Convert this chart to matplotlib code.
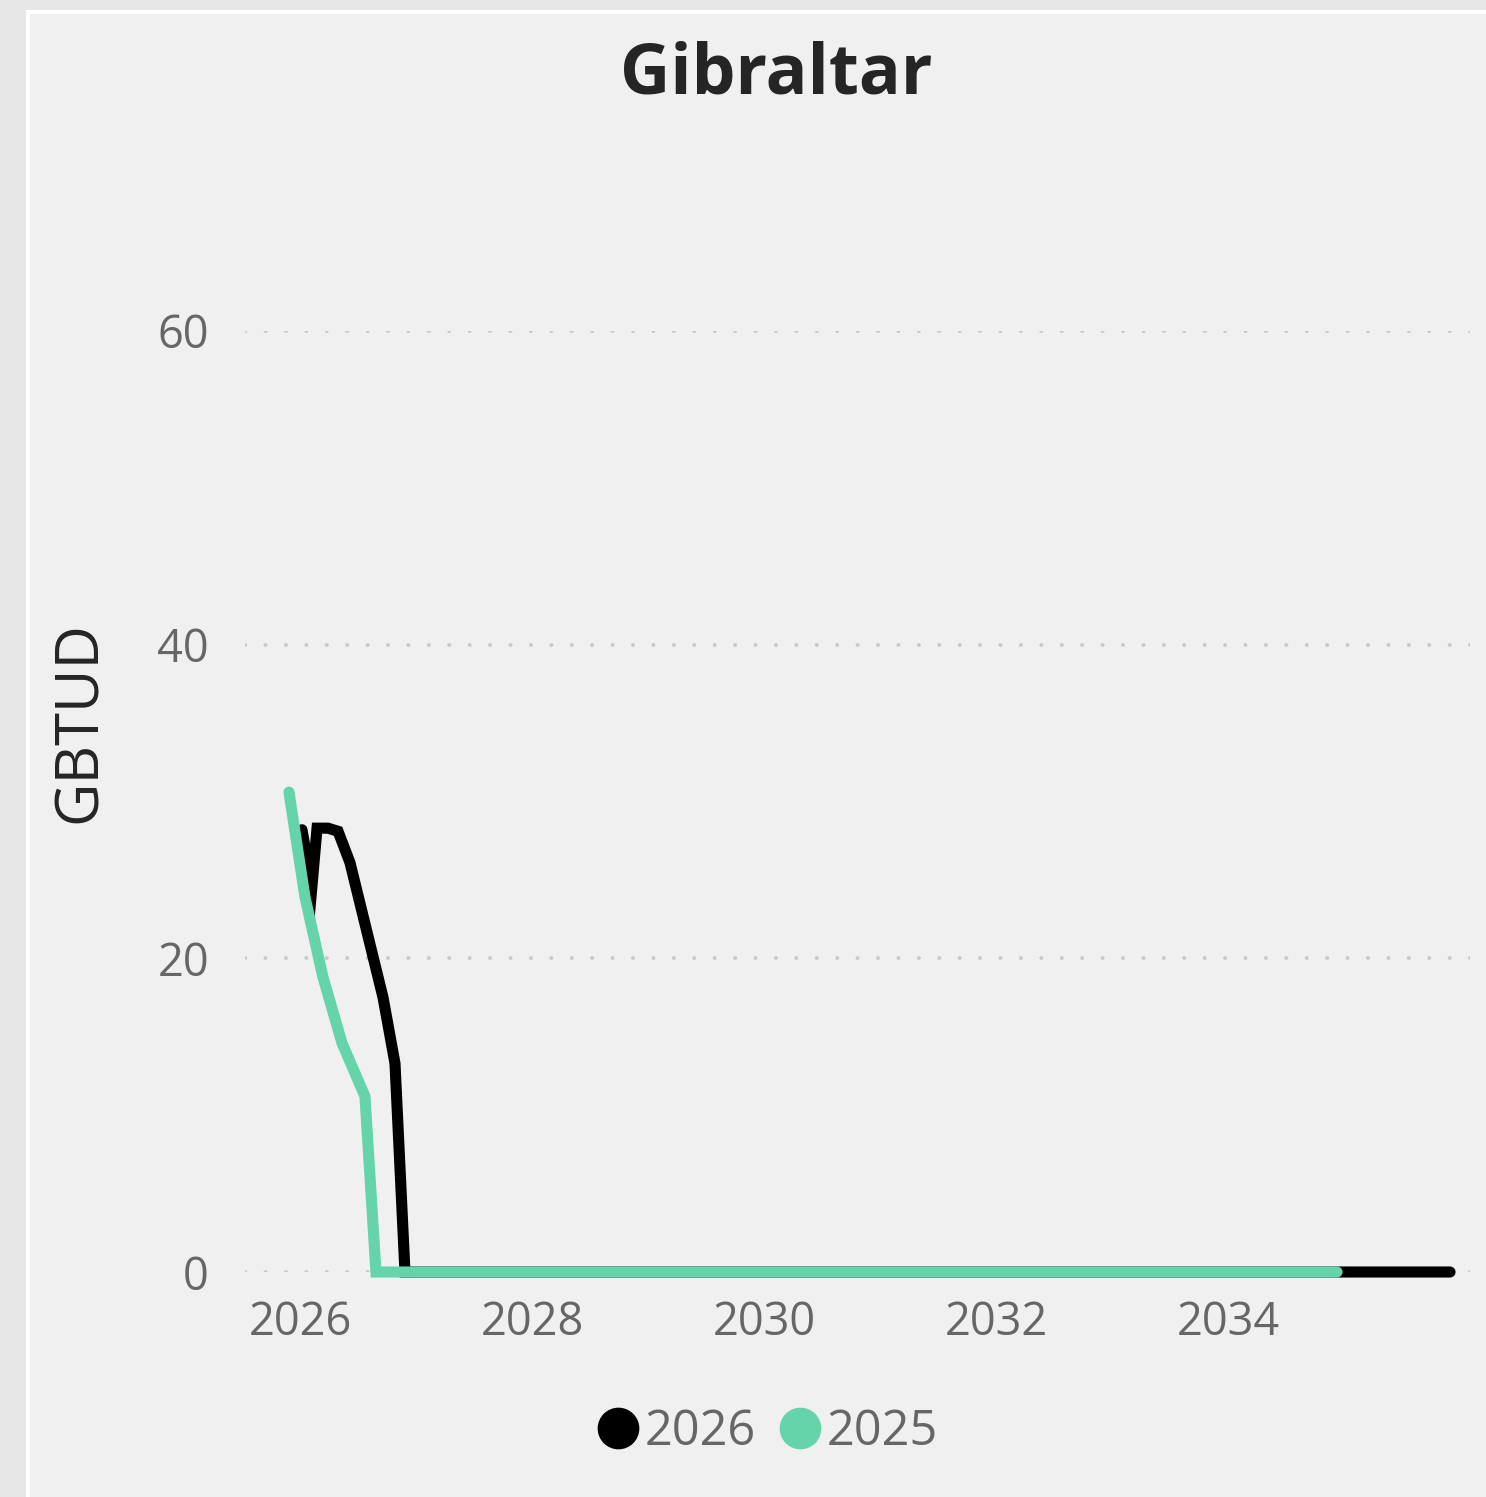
import matplotlib
matplotlib.use("Agg")
import matplotlib.pyplot as plt
from matplotlib.lines import Line2D
from matplotlib.patches import Rectangle

plt.rcParams['font.family'] = ['Open Sans', 'DejaVu Sans']

# data (decimal years)
x_2026 = [2026.017, 2026.103, 2026.147, 2026.241, 2026.328, 2026.431, 2026.716, 2026.819, 2026.905, 2035.914]
y_2026 = [28.2, 24.6, 28.3, 28.3, 28.1, 26.1, 17.5, 13.3, 0, 0]
x_2025 = [2025.905, 2026.043, 2026.198, 2026.362, 2026.560, 2026.655, 2034.94]
y_2025 = [30.6, 23.9, 18.8, 14.6, 11.2, 0, 0]

series_names = ['2026', '2025']
colors = ['#000000', '#66d4aa']
x_ticks = [2026, 2028, 2030, 2032, 2034]
y_ticks = [0, 20, 40, 60]

W, H = 1486, 1497
fig = plt.figure(figsize=(W / 100, H / 100), dpi=100)
fig.patch.set_facecolor('#e6e6e6')

# card
card = Rectangle((28 / W, -0.01), 1.0, 1 - 12 / H + 0.01, transform=fig.transFigure,
                 facecolor='#f0f0f0', edgecolor='white', linewidth=3, zorder=-10)
fig.patches.append(card)

ax = fig.add_axes([245 / W, 1 - 1272 / H, 1225 / W, (1272 - 331) / H])
ax.set_facecolor('none')
ax.set_zorder(1)

ax.plot(x_2026, y_2026, color=colors[0], lw=8, solid_capstyle='round', solid_joinstyle='miter', clip_on=False, zorder=3)
ax.plot(x_2025, y_2025, color=colors[1], lw=8, solid_capstyle='round', solid_joinstyle='miter', clip_on=False, zorder=4)

ax.set_xlim(2025.526, 2036.086)
ax.set_ylim(0, 60)
ax.set_xticks(x_ticks)
ax.set_yticks(y_ticks)
ax.tick_params(length=0, labelsize=32.5, labelcolor='#666666')
ax.tick_params(axis='y', pad=26)
ax.tick_params(axis='x', pad=20)
for s in ax.spines.values():
    s.set_visible(False)
ax.grid(axis='y', color='#c8c8c8', linewidth=2.8, linestyle=(0, (0.05, 5.2)), dash_capstyle='round')
ax.grid(axis='x', visible=False)
ax.set_axisbelow(True)

fig.text(0.522, 1 - 75 / H, 'Gibraltar', ha='center', va='center', fontsize=50, fontweight='bold', color='#252525')
fig.text(80 / W, 1 - 722 / H, 'GBTUD', ha='center', va='center', rotation=90, fontsize=43, color='#252525')

handles = [Line2D([], [], marker='o', linestyle='none', markersize=29, color=c) for c in colors]
fig.legend(handles, series_names, loc='center', bbox_to_anchor=(766 / W, 1 - 1432 / H), ncol=2,
           frameon=False, fontsize=35, labelcolor='#666666', handletextpad=0.05, columnspacing=0.4,
           handlelength=1.0)

fig.savefig('out.png', dpi=100, facecolor=fig.get_facecolor())
